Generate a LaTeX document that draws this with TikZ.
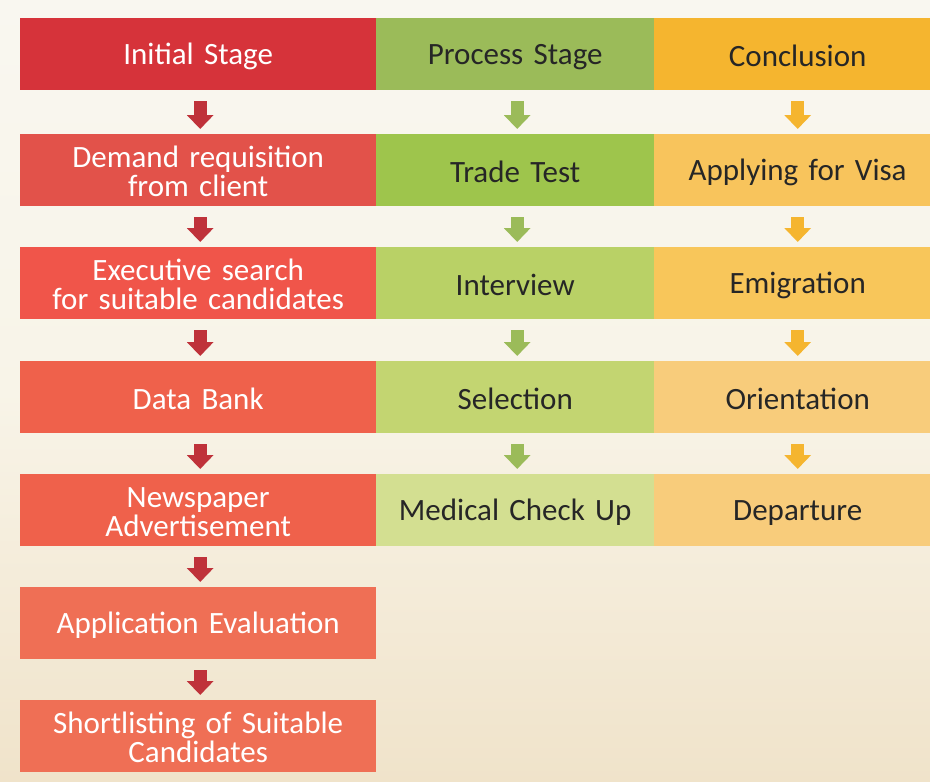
\documentclass[tikz,border=0pt]{standalone}
\usepackage{fontspec}
\setmainfont{Carlito}
\usetikzlibrary{arrows.meta}
\definecolor{bgtop}{HTML}{F9F7F0}
\definecolor{bgmid}{HTML}{F8F4E8}
\definecolor{bgbot}{HTML}{F0E3CA}
\definecolor{rA}{HTML}{D6333A}
\definecolor{rB}{HTML}{E2524A}
\definecolor{rC}{HTML}{F0554A}
\definecolor{rD}{HTML}{EF614B}
\definecolor{rE}{HTML}{EF6F55}
\definecolor{gA}{HTML}{9BBB59}
\definecolor{gB}{HTML}{9EC54C}
\definecolor{gC}{HTML}{B9D166}
\definecolor{gD}{HTML}{C3D571}
\definecolor{gE}{HTML}{D3DF91}
\definecolor{oA}{HTML}{F5B52F}
\definecolor{oB}{HTML}{F8C45C}
\definecolor{oC}{HTML}{F8C65A}
\definecolor{oD}{HTML}{F8CC7B}
\definecolor{arR}{HTML}{BF323A}
\definecolor{arG}{HTML}{9BBB59}
\definecolor{arO}{HTML}{F5B52F}
\definecolor{darktext}{HTML}{262626}
\newcommand{\cellstrutA}{\rule{0pt}{26.5pt}}
\newcommand{\cellstrutB}{\rule[-2.5pt]{0pt}{2.5pt}}
\tikzset{
  cell/.style={rectangle, inner sep=0pt, minimum height=72pt, align=center,
    font=\fontsize{31}{28.5}\selectfont,
    execute at begin node=\cellstrutA, execute at end node=\cellstrutB},
  c1/.style={cell, minimum width=356pt, text width=350pt, text=white},
  c2/.style={cell, minimum width=278pt, text width=272pt, text=darktext},
  c3/.style={cell, minimum width=287pt, text width=280pt, text=darktext},
  blockarrow/.style={line width=13pt, -{Triangle[width=26pt,length=14pt]}},
}
\begin{document}
\begin{tikzpicture}[x=1pt,y=1pt]
\useasboundingbox (0,0) rectangle (930,-782);
\clip (0,0) rectangle (930,-782);
\shade[top color=bgtop, bottom color=bgbot, middle color=bgmid] (0,0) rectangle (930,-782);
% column 1
\node[c1, fill=rA, anchor=north west] (a1) at (20,-18) {Initial Stage};
\node[c1, fill=rB, anchor=north west] (a2) at (20,-134) {Demand requisition\\from client};
\node[c1, fill=rC, anchor=north west] (a3) at (20,-247) {Executive search\\for suitable candidates};
\node[c1, fill=rD, anchor=north west] (a4) at (20,-361) {Data Bank};
\node[c1, fill=rD, anchor=north west] (a5) at (20,-474) {Newspaper\\Advertisement};
\node[c1, fill=rE, anchor=north west] (a6) at (20,-587) {Application Evaluation};
\node[c1, fill=rE, anchor=north west] (a7) at (20,-700) {Shortlisting of Suitable\\Candidates};
% column 2
\node[c2, fill=gA, anchor=north west] (b1) at (376,-18) {Process Stage};
\node[c2, fill=gB, anchor=north west] (b2) at (376,-134) {Trade Test};
\node[c2, fill=gC, anchor=north west] (b3) at (376,-247) {Interview};
\node[c2, fill=gD, anchor=north west] (b4) at (376,-361) {Selection};
\node[c2, fill=gE, anchor=north west] (b5) at (376,-474) {Medical Check Up};
% column 3
\node[c3, fill=oA, anchor=north west] (c1n) at (654,-18) {Conclusion};
\node[c3, fill=oB, anchor=north west] (c2n) at (654,-134) {Applying for Visa};
\node[c3, fill=oC, anchor=north west] (c3n) at (654,-247) {Emigration};
\node[c3, fill=oD, anchor=north west] (c4n) at (654,-361) {Orientation};
\node[c3, fill=oD, anchor=north west] (c5n) at (654,-474) {Departure};
% arrows
\foreach \u/\v in {a1/a2,a2/a3,a3/a4,a4/a5,a5/a6,a6/a7}
  \draw[blockarrow, draw=arR, fill=arR] ([xshift=2pt,yshift=-11pt]\u.south) -- ([xshift=2pt,yshift=5pt]\v.north);
\foreach \u/\v in {b1/b2,b2/b3,b3/b4,b4/b5}
  \draw[blockarrow, draw=arG, fill=arG] ([xshift=2pt,yshift=-11pt]\u.south) -- ([xshift=2pt,yshift=5pt]\v.north);
\foreach \u/\v in {c1n/c2n,c2n/c3n,c3n/c4n,c4n/c5n}
  \draw[blockarrow, draw=arO, fill=arO] ([yshift=-11pt]\u.south) -- ([yshift=5pt]\v.north);
\end{tikzpicture}
\end{document}
